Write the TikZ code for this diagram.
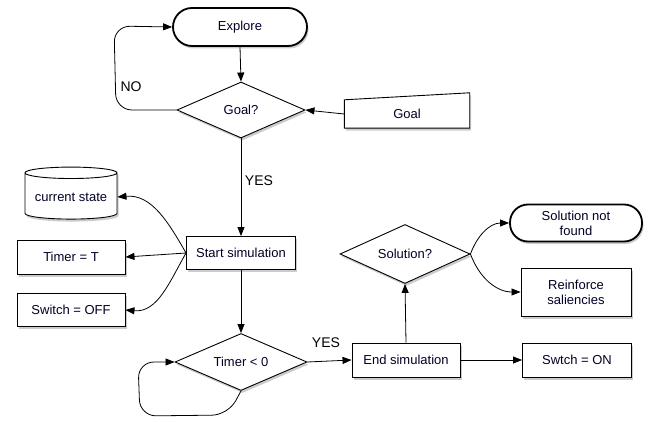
\documentclass[tikz,border=0pt]{standalone}
\usepackage{fontspec}
\setmainfont{Liberation Sans}
\usetikzlibrary{shapes.geometric,shadows,arrows.meta,backgrounds}
\tikzset{
  base/.style={font=\fontsize{13}{15}\selectfont, text=black!85!blue, inner sep=2pt, align=center,
    drop shadow={shadow xshift=1.5pt, shadow yshift=-2.5pt, opacity=0.4}},
  box/.style={base, draw, fill=white, line width=0.9pt},
  stadium/.style={base, draw, fill=white, line width=1.8pt},
  dia/.style={base, draw, fill=white, diamond, aspect=2.3, inner sep=0pt, line width=0.9pt},
  arr/.style={-{Triangle[length=9pt,width=7pt]}, line width=0.8pt},
  lab/.style={font=\fontsize{14}{16}\selectfont}
}
\begin{document}
\begin{tikzpicture}[x=1pt,y=-1pt]
\useasboundingbox (0,0) rectangle (655,422);
% nodes
\node[stadium, rounded corners=19pt, minimum width=134pt, minimum height=38pt] (explore) at (240,27) {Explore};
\node[dia, minimum width=128pt, minimum height=56pt] (goalq) at (241,110) {Goal?};
\node[font=\fontsize{13}{15}\selectfont, text=black!85!blue, minimum width=125pt, minimum height=28pt, inner sep=0pt] (goal) at (407,114) {Goal};
\begin{scope}[on background layer]
\path[draw, fill=white, line width=0.9pt, drop shadow={shadow xshift=1.5pt, shadow yshift=-2.5pt, opacity=0.4}]
  (goal.south west) -- (goal.south east) -- ([yshift=7pt]goal.north east) -- (goal.north west) -- cycle;
\end{scope}
\node[box, minimum width=109pt, minimum height=33pt] (start) at (241,253) {Start simulation};
\node[base, draw, fill=white, line width=0.9pt, cylinder, shape border rotate=90, aspect=0.15, minimum width=92pt, minimum height=52pt] (cs) at (71,197) {current state};
\node[box, minimum width=108pt, minimum height=34pt] (timer) at (71,257) {Timer = T};
\node[box, minimum width=108pt, minimum height=33pt] (switch) at (71,310) {Switch = OFF};
\node[dia, minimum width=132pt, minimum height=57pt] (timerq) at (241,362) {Timer < 0};
\node[box, minimum width=108pt, minimum height=34pt] (endsim) at (406,360) {End simulation};
\node[box, minimum width=109pt, minimum height=34pt] (swtch) at (577,360) {Swtch = ON};
\node[dia, minimum width=130pt, minimum height=59pt] (solq) at (405,254) {Solution?};
\node[stadium, rounded corners=18pt, minimum width=132pt, minimum height=37pt] (notfound) at (576,223) {Solution not\\found};
\node[box, minimum width=110pt, minimum height=48pt] (reinforce) at (576,292) {Reinforce\\saliencies};
% connectors
\draw[arr] (explore.south) -- (goalq.north);
\draw[arr] (goal.west) -- (goalq.east);
\draw[arr, rounded corners=16pt] (goalq.west) -- (116,110) -- (114,26) -- (explore.west);
\node[lab] (no) at (131,87) {NO};
\draw[arr] (goalq.south) -- (start.north);
\node[lab] (yes1) at (259,181) {YES};
\draw[arr] (start.west) to[out=120, in=5] (cs.east);
\draw[arr] (start.west) -- (timer.east);
\draw[arr] (start.west) to[out=-120, in=-5] (switch.east);
\draw[arr] (start.south) -- (timerq.north);
\draw[arr, rounded corners=16pt] (timerq.south) -- (228,415) -- (140,416) -- (138,362) -- (timerq.west);
\draw[arr] (timerq.east) -- (endsim.west);
\node[lab] (yes2) at (326,343) {YES};
\draw[arr] (endsim.east) -- (swtch.west);
\draw[arr] (endsim.north) -- (solq.south);
\draw[arr] (solq.east) to[out=70, in=180] (notfound.west);
\draw[arr] (solq.east) to[out=-70, in=180] (reinforce.west);
\end{tikzpicture}
\end{document}
